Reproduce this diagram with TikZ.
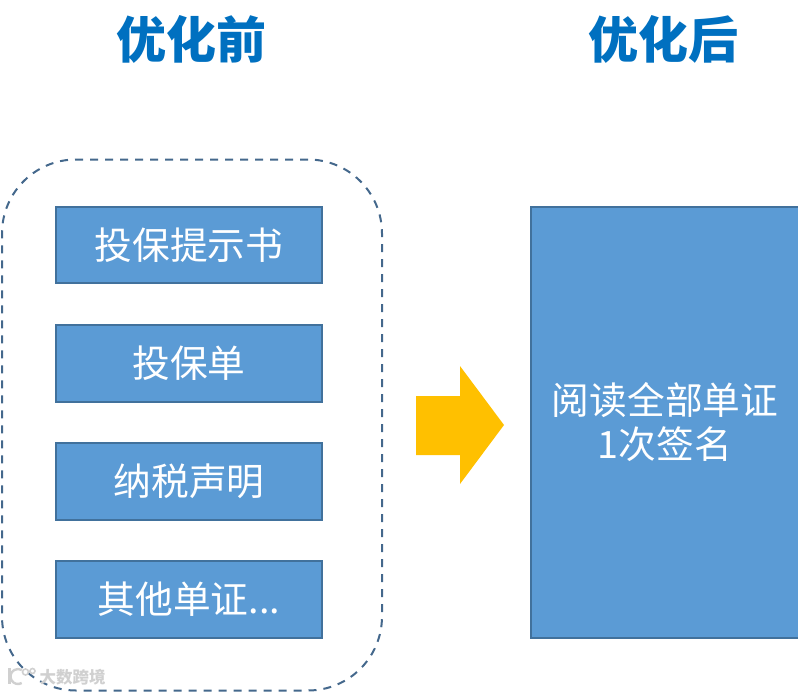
\documentclass[tikz,border=0pt]{standalone}
\usepackage{fontspec}
\newfontfamily\cjk{Noto Sans CJK SC}
\definecolor{boxfill}{HTML}{5B9BD5}
\definecolor{boxline}{HTML}{41719C}
\definecolor{titleblue}{HTML}{0070C0}
\definecolor{arrowgold}{HTML}{FFC000}
\definecolor{dashline}{HTML}{44688C}
\definecolor{wm}{HTML}{D0D0D0}
\tikzset{
  x=1pt,y=-1pt,
  docbox/.style={draw=boxline,line width=2pt,fill=boxfill,text=white,inner sep=0pt,anchor=north west,font=\cjk\fontsize{37.7pt}{45pt}\selectfont,align=center},
  titletext/.style={text=titleblue,font=\cjk\bfseries\fontsize{50pt}{60pt}\selectfont,inner sep=0pt},
  groupbox/.style={draw=dashline,line width=2pt,dash pattern=on 8pt off 7pt,rounded corners=74pt,anchor=north west,inner sep=0pt},
  wmtext/.style={text=wm,font=\cjk\bfseries\fontsize{16.5pt}{20pt}\selectfont,inner sep=0pt}
}
\begin{document}
\begin{tikzpicture}
\useasboundingbox (0,0) rectangle (798,693);
\node[titletext] (t1) at (191,39.5) {优化前};
\node[titletext] (t2) at (663,39.5) {优化后};
\node[groupbox,minimum width=380pt,minimum height=531pt] (group) at (1,158.5) {};
\node[docbox,minimum width=266pt,minimum height=76pt] (a) at (55,206) {\raisebox{1pt}{投保提示书}};
\node[docbox,minimum width=266pt,minimum height=77pt] (b) at (55,324) {\raisebox{1pt}{投保单}};
\node[docbox,minimum width=266pt,minimum height=77pt] (c) at (55,442) {纳税声明};
\node[docbox,minimum width=266pt,minimum height=77pt] (d) at (55,560) {其他单证...};
\node[docbox,minimum width=268pt,minimum height=431pt] (e) at (530,206) {阅读全部单证\\[-1pt]1次签名};
\fill[arrowgold] (416,396) -- (460,396) -- (460,366) -- (504,425) -- (460,484) -- (460,455) -- (416,455) -- cycle;
\node[wmtext] (w) at (72.5,677) {大数跨境};
\draw[wm,line width=2.4pt] (21.75,683) arc (60:300:7.5);
\draw[wm,line width=2.4pt] (9.5,668) -- (9.5,684);
\draw[wm,line width=1.6pt] (25.5,672) circle (3) (32.5,671) circle (2.5);
\end{tikzpicture}
\end{document}
